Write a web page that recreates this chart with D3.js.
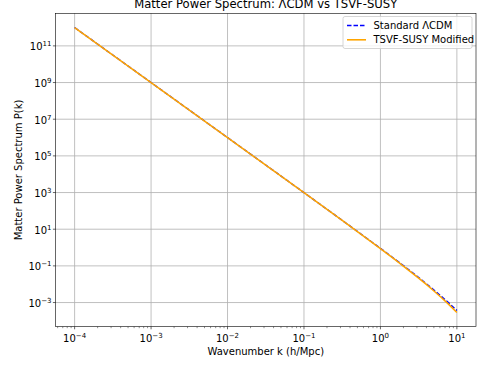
<!DOCTYPE html>
<html>
<head>
<meta charset="utf-8">
<script src="https://cdn.jsdelivr.net/npm/d3@7/dist/d3.min.js"></script>
<style>
  html, body { margin: 0; padding: 0; background: #fff; }
  svg { display: block; font-family: "DejaVu Sans", sans-serif; }
</style>
</head>
<body>
<svg id="chart" width="477" height="365"></svg>
<script>
// Wavenumbers (h/Mpc) and power spectrum values for both models
const kValues = [1e-4, 3.162e-4, 1e-3, 3.162e-3, 1e-2, 3.162e-2, 0.1, 0.3162,
  1, 1.259, 1.585, 1.995, 2.512, 3.162, 3.981, 5.012, 6.310, 7.943, 10];
const standardP = [1e12, 3.16e10, 1e9, 3.16e7, 1e6, 3.16e4, 990, 30.6,
  0.905, 0.442, 0.214, 0.103, 0.0491, 0.0231, 0.01064, 0.00481, 0.00212, 0.000902, 0.000368];
const tsvfP = [1e12, 3.16e10, 1e9, 3.16e7, 1e6, 3.16e4, 988, 30.4,
  0.883, 0.4285, 0.206, 0.0982, 0.0461, 0.0213, 0.00966, 0.00426, 0.00182, 0.000743, 0.000288];

const xTickExps = [-4, -3, -2, -1, 0, 1];
const yTickExps = [-3, -1, 1, 3, 5, 7, 9, 11];

const seriesNames = ["Standard \u039BCDM", "TSVF-SUSY Modified"];
const titleText = "Matter Power Spectrum: \u039BCDM vs TSVF-SUSY";
const xLabelText = "Wavenumber k (h/Mpc)";
const yLabelText = "Matter Power Spectrum P(k)";

const svg = d3.select("#chart");
const plot = { left: 55.5, right: 476, top: 13.3, bottom: 326.7 };

// log-space extents padded by 5% on each side
function paddedDomain(vals) {
  const lo = Math.log10(d3.min(vals)), hi = Math.log10(d3.max(vals));
  const pad = (hi - lo) * 0.05;
  return [Math.pow(10, lo - pad), Math.pow(10, hi + pad)];
}

const x = d3.scaleLog().domain(paddedDomain(kValues)).range([plot.left, plot.right]);
const y = d3.scaleLog().domain(paddedDomain(standardP.concat(tsvfP))).range([plot.bottom, plot.top]);

const gridColor = "#b0b0b0";
const dashPattern = "4.5,2";
const supText = e => (e < 0 ? "\u2212" + Math.abs(e) : String(e));

// grid lines
const grid = svg.append("g");
xTickExps.forEach(e => {
  grid.append("line")
    .attr("x1", x(Math.pow(10, e))).attr("x2", x(Math.pow(10, e)))
    .attr("y1", plot.top).attr("y2", plot.bottom)
    .attr("stroke", gridColor).attr("stroke-width", 0.8);
});
yTickExps.forEach(e => {
  grid.append("line")
    .attr("x1", plot.left).attr("x2", plot.right)
    .attr("y1", y(Math.pow(10, e))).attr("y2", y(Math.pow(10, e)))
    .attr("stroke", gridColor).attr("stroke-width", 0.8);
});

// data lines
const line = d3.line().x(d => x(d[0])).y(d => y(d[1]));
svg.append("path")
  .datum(kValues.map((k, i) => [k, standardP[i]]))
  .attr("d", line).attr("fill", "none")
  .attr("stroke", "blue").attr("stroke-width", 1.4)
  .attr("stroke-dasharray", dashPattern);
svg.append("path")
  .datum(kValues.map((k, i) => [k, tsvfP[i]]))
  .attr("d", line).attr("fill", "none")
  .attr("stroke", "orange").attr("stroke-width", 1.6);

// spines
svg.append("rect")
  .attr("x", plot.left).attr("y", plot.top)
  .attr("width", plot.right - plot.left).attr("height", plot.bottom - plot.top)
  .attr("fill", "none").attr("stroke", "#000").attr("stroke-width", 0.6);

// x axis ticks (major + minor)
const xAxis = svg.append("g");
const [xd0, xd1] = x.domain();
for (let e = Math.floor(Math.log10(xd0)); e <= Math.ceil(Math.log10(xd1)); e++) {
  for (let m = 1; m <= 9; m++) {
    const v = m * Math.pow(10, e);
    if (v < xd0 || v > xd1) continue;
    const px = x(v);
    xAxis.append("line")
      .attr("x1", px).attr("x2", px)
      .attr("y1", plot.bottom).attr("y2", plot.bottom + (m === 1 ? 2.6 : 1.5))
      .attr("stroke", "#000").attr("stroke-width", m === 1 ? 0.6 : 0.45);
  }
}
xTickExps.forEach(e => {
  const t = xAxis.append("text")
    .attr("x", x(Math.pow(10, e))).attr("y", 341.5)
    .attr("text-anchor", "middle").attr("font-size", 10).attr("fill", "#000");
  t.append("tspan").text("10");
  t.append("tspan").attr("dy", -4).attr("font-size", 7).text(supText(e));
});

// y axis ticks
const yAxis = svg.append("g");
yTickExps.forEach(e => {
  const py = y(Math.pow(10, e));
  yAxis.append("line")
    .attr("x1", plot.left - 2.6).attr("x2", plot.left)
    .attr("y1", py).attr("y2", py)
    .attr("stroke", "#000").attr("stroke-width", 0.6);
  const t = yAxis.append("text")
    .attr("x", plot.left - 4).attr("y", py + 4.5)
    .attr("text-anchor", "end").attr("font-size", 10).attr("fill", "#000");
  t.append("tspan").text("10");
  t.append("tspan").attr("dy", -4).attr("font-size", 7).text(supText(e));
});

// axis labels and title
svg.append("text")
  .attr("x", (plot.left + plot.right) / 2).attr("y", 354.5)
  .attr("text-anchor", "middle").attr("font-size", 10).text(xLabelText);
svg.append("text")
  .attr("transform", `translate(21.5,${(plot.top + plot.bottom) / 2}) rotate(-90)`)
  .attr("text-anchor", "middle").attr("font-size", 10).text(yLabelText);
svg.append("text")
  .attr("x", (plot.left + plot.right) / 2).attr("y", 8.3)
  .attr("text-anchor", "middle").attr("font-size", 11.6).text(titleText);

// legend
const legend = svg.append("g");
legend.append("rect")
  .attr("x", 343).attr("y", 16.5).attr("width", 129).attr("height", 32).attr("rx", 2)
  .attr("fill", "#fff").attr("fill-opacity", 0.8)
  .attr("stroke", "#cccccc").attr("stroke-width", 0.8);
const legendItems = [
  { name: seriesNames[0], color: "blue", dash: dashPattern, width: 1.4 },
  { name: seriesNames[1], color: "orange", dash: null, width: 1.6 }
];
legendItems.forEach((item, i) => {
  const cy = 25.5 + i * 14.3;
  legend.append("line")
    .attr("x1", 347).attr("x2", 366).attr("y1", cy).attr("y2", cy)
    .attr("stroke", item.color).attr("stroke-width", item.width)
    .attr("stroke-dasharray", item.dash);
  legend.append("text")
    .attr("x", 373.5).attr("y", cy + 3.6)
    .attr("font-size", 10).text(item.name);
});
</script>
</body>
</html>
